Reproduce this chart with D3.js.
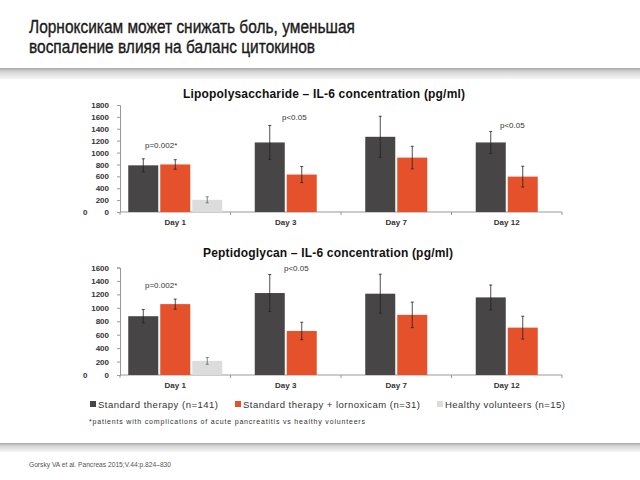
<!DOCTYPE html>
<html><head><meta charset="utf-8">
<script src="https://cdn.jsdelivr.net/npm/d3@7"></script>
<style>body{margin:0;background:#fff}svg{display:block}text{font-family:"Liberation Sans",Arial,sans-serif}</style>
</head><body>
<script>
const days = ["Day 1","Day 3","Day 7","Day 12"];
const seriesNames = ["Standard therapy (n=141)","Standard therapy + lornoxicam (n=31)","Healthy volunteers (n=15)"];
const colors = ["#474545","#e5512b","#dcdcdc"];
// Lipopolysaccharide
const lpsStd = [785, 1170, 1265, 1170];
const lpsStdErr = [110, 285, 345, 185];
const lpsLorn = [800, 630, 915, 595];
const lpsLornErr = [80, 135, 190, 175];
const lpsHealthy = [205, null, null, null];
const lpsHealthyErr = [50, null, null, null];
const lpsTicks = [0,200,400,600,800,1000,1200,1400,1600,1800];
// Peptidoglycan
const pgStd = [875, 1220, 1210, 1155];
const pgStdErr = [100, 275, 290, 185];
const pgLorn = [1055, 655, 895, 705];
const pgLornErr = [75, 130, 190, 170];
const pgHealthy = [210, null, null, null];
const pgHealthyErr = [50, null, null, null];
const pgTicks = [0,200,400,600,800,1000,1200,1400,1600];

const W=640,H=480;
const svg=d3.select("body").append("svg").attr("width",W).attr("height",H);

// header
const defs=svg.append("defs");
const g1=defs.append("linearGradient").attr("id","shade").attr("x1",0).attr("y1",0).attr("x2",0).attr("y2",1);
g1.append("stop").attr("offset","0%").attr("stop-color","#a8a8a8");
g1.append("stop").attr("offset","35%").attr("stop-color","#d6d6d6");
g1.append("stop").attr("offset","100%").attr("stop-color","#f6f6f6");
svg.append("rect").attr("x",0).attr("y",68).attr("width",W).attr("height",11).attr("fill","url(#shade)");
svg.append("rect").attr("x",0).attr("y",443).attr("width",W).attr("height",9).attr("fill","url(#shade)");
function txt(x,y,size,fill,s,len,weight){
  const t=svg.append("text").attr("x",x).attr("y",y).attr("font-size",size).attr("fill",fill).text(s);
  if(len) t.attr("textLength",len).attr("lengthAdjust","spacingAndGlyphs");
  if(weight) t.attr("font-weight",weight);
  return t;
}
txt(29,33,17.5,"#1a1a1a","Лорноксикам может снижать боль, уменьшая",326).attr("stroke","#1a1a1a").attr("stroke-width",0.35);
txt(29,53,17.5,"#1a1a1a","воспаление влияя на баланс цитокинов",286).attr("stroke","#1a1a1a").attr("stroke-width",0.35);
txt(29,467,7.5,"#555","Gorsky VA et al. Pancreas 2015;V.44:p.824–830",142);

function chart(cfg){
  const x=d3.scaleBand().domain(days).range([120,562]);
  const y=d3.scaleLinear().domain([0,cfg.max]).range([cfg.y0,cfg.y1]);
  const g=svg.append("g");
  svg.append("text").attr("x",cfg.titleX).attr("y",cfg.titleY).attr("font-size",12).attr("font-weight","bold").attr("fill","#111")
    .attr("textLength",cfg.titleLen).attr("lengthAdjust","spacing").text(cfg.title);
  // y axis
  const ya=g.append("g").attr("transform","translate(120,0)").call(d3.axisLeft(y).tickValues(cfg.ticks).tickFormat(d3.format("d")).tickSize(3).tickPadding(8));
  ya.selectAll("text").attr("font-size",8).attr("font-weight","bold").attr("fill","#333").attr("font-family","Liberation Sans, Arial, sans-serif");
  ya.select(".domain").attr("stroke","#999");
  ya.selectAll(".tick line").attr("stroke","#999");
  g.append("text").attr("x",83).attr("y",y(0)+3).attr("font-size",8).attr("font-weight","bold").attr("fill","#333").text("0");
  // x axis
  const xa=g.append("g").attr("transform",`translate(0,${y(0)})`);
  xa.append("line").attr("x1",120).attr("x2",562).attr("stroke","#999");
  const bounds=[120].concat(days.map(d=>x(d)+x.bandwidth()));
  xa.selectAll(".tk").data(bounds).join("line").attr("x1",d=>d).attr("x2",d=>d).attr("y1",0).attr("y2",3).attr("stroke","#999");
  xa.selectAll(".lbl").data(days).join("text").attr("x",d=>x(d)+x.bandwidth()/2).attr("y",13).attr("text-anchor","middle").attr("font-size",8).attr("font-weight","bold").attr("fill","#333").text(d=>d);
  const bw=30,gap=2;
  const series=[[cfg.std,cfg.stdErr],[cfg.lorn,cfg.lornErr],[cfg.healthy,cfg.healthyErr]];
  days.forEach((d,i)=>{
    const present=series.map((s,k)=>({k,v:s[0][i],e:s[1][i]})).filter(o=>o.v!=null);
    const total=present.length*bw+(present.length-1)*gap;
    const start=x(d)+(x.bandwidth()-total)/2;
    present.forEach((o,j)=>{
      const bx=start+j*(bw+gap);
      g.append("rect").attr("x",bx).attr("y",y(o.v)).attr("width",bw).attr("height",y(0)-y(o.v)).attr("fill",colors[o.k]);
      const cx=bx+bw/2;
      const ec=o.k==2?"#666":"#222";
      g.append("line").attr("x1",cx).attr("x2",cx).attr("y1",y(o.v+o.e)).attr("y2",y(o.v-o.e)).attr("stroke",ec).attr("stroke-width",0.8);
      [o.v+o.e,o.v-o.e].forEach(v=>g.append("line").attr("x1",cx-1.5).attr("x2",cx+1.5).attr("y1",y(v)).attr("y2",y(v)).attr("stroke",ec).attr("stroke-width",0.8));
    });
  });
  cfg.notes.forEach(n=>svg.append("text").attr("x",n[0]).attr("y",n[1]).attr("font-size",8).attr("fill","#333").text(n[2]));
}

chart({title:"Lipopolysaccharide – IL-6 concentration (pg/ml)",titleX:183,titleLen:282,titleY:98,max:1800,y0:212,y1:105,ticks:lpsTicks,
  std:lpsStd,stdErr:lpsStdErr,lorn:lpsLorn,lornErr:lpsLornErr,healthy:lpsHealthy,healthyErr:lpsHealthyErr,
  notes:[[145,148,"p=0.002*"],[282,120,"p<0.05"],[500,128,"p<0.05"]]});
chart({title:"Peptidoglycan – IL-6 concentration (pg/ml)",titleX:203,titleLen:250,titleY:257,max:1600,y0:375,y1:267.5,ticks:pgTicks,
  std:pgStd,stdErr:pgStdErr,lorn:pgLorn,lornErr:pgLornErr,healthy:pgHealthy,healthyErr:pgHealthyErr,
  notes:[[145,288,"p=0.002*"],[284,271,"p<0.05"]]});

// legend
const leg=[[90,98,120],[235,243,177],[437,445,120]];
seriesNames.forEach((s,i)=>{
  svg.append("rect").attr("x",leg[i][0]).attr("y",401).attr("width",6).attr("height",6).attr("fill",colors[i]);
  svg.append("text").attr("x",leg[i][1]).attr("y",408).attr("font-size",9.5).attr("fill","#333")
    .attr("textLength",leg[i][2]).attr("lengthAdjust","spacing").text(s);
});
svg.append("text").attr("x",89).attr("y",424).attr("font-size",7).attr("fill","#333")
  .attr("textLength",276).attr("lengthAdjust","spacing").text("*patients with complications of acute pancreatitis vs healthy volunteers");
</script>
</body></html>
